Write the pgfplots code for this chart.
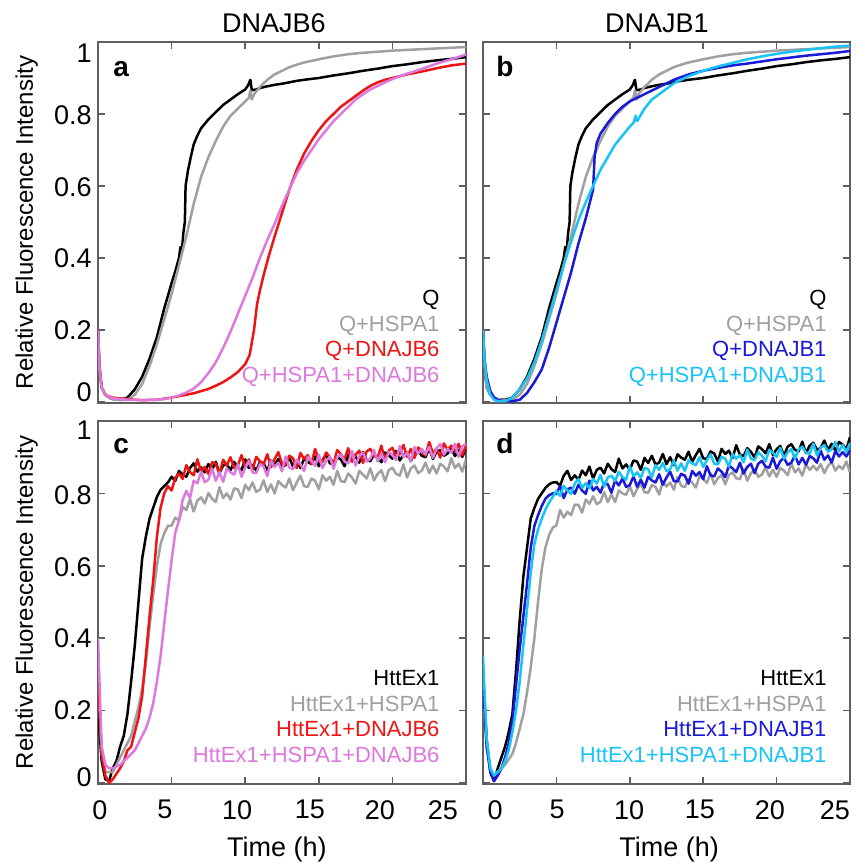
\documentclass[border=0pt]{standalone}
\usepackage{fontspec}
\setmainfont{Liberation Sans}
\usepackage{pgfplots}
\usepackage{pgfplotstable}
\pgfplotsset{compat=1.18}

\definecolor{qgrey}{RGB}{160,160,160}
\definecolor{qred}{RGB}{238,20,20}
\definecolor{qpink}{RGB}{221,120,221}
\definecolor{qblue}{RGB}{25,25,215}
\definecolor{qcyan}{RGB}{25,195,245}
\definecolor{frame}{RGB}{95,95,95}

% top row: Q series (shared by a and b)
\pgfplotstableread{
t f
0 0.20
0.1 0.10
0.25 0.04
0.5 0.02
0.75 0.012
1 0.008
1.5 0.006
2 0.012
2.5 0.035
3 0.07
3.5 0.12
4 0.18
4.5 0.26
5 0.33
5.3 0.37
5.5 0.40
5.6 0.43
5.7 0.42
5.8 0.47
5.9 0.50
5.95 0.60
6.1 0.64
6.3 0.68
6.5 0.715
6.75 0.74
7 0.76
7.5 0.785
8 0.805
8.5 0.825
9 0.84
9.5 0.855
10 0.868
10.2 0.88
10.35 0.895
10.45 0.866
10.75 0.868
11 0.872
11.5 0.877
12 0.881
12.5 0.884
13 0.888
13.5 0.892
14 0.895
15 0.90
16 0.907
17 0.913
18 0.92
19 0.926
20 0.933
21 0.938
22 0.944
23 0.949
24 0.953
25 0.958
}\tQ

\pgfplotstableread{
t f
0 0.20
0.1 0.10
0.25 0.04
0.5 0.02
0.75 0.012
1 0.008
1.5 0.005
2 0.006
2.5 0.02
3 0.05
3.5 0.10
4 0.16
4.5 0.23
5 0.30
5.5 0.38
6 0.46
6.5 0.55
7 0.625
7.5 0.68
8 0.725
8.5 0.765
9 0.795
9.5 0.815
10 0.835
10.25 0.845
10.35 0.865
10.45 0.84
10.6 0.855
11 0.875
11.5 0.895
12 0.91
12.5 0.92
13 0.93
13.5 0.937
14 0.943
15 0.952
16 0.96
17 0.966
18 0.97
19 0.973
20 0.976
21 0.978
22 0.98
23 0.982
24 0.984
25 0.986
}\tQH

\pgfplotstableread{
t f
0 0.20
0.1 0.09
0.25 0.04
0.5 0.02
0.75 0.015
1 0.012
1.5 0.01
2 0.008
2.5 0.006
3 0.005
4 0.006
5 0.012
6 0.02
6.5 0.024
7 0.03
7.5 0.036
8 0.045
8.5 0.055
9 0.068
9.5 0.083
10 0.105
10.3 0.13
10.6 0.20
10.8 0.27
11 0.31
11.3 0.36
11.6 0.405
12 0.46
12.5 0.525
13 0.59
13.5 0.645
14 0.69
14.5 0.725
15 0.755
15.5 0.78
16 0.80
16.5 0.82
17 0.835
17.5 0.85
18 0.865
18.5 0.878
19 0.888
19.5 0.895
20 0.90
21 0.91
22 0.918
23 0.927
24 0.935
25 0.94
}\tQDsix

\pgfplotstableread{
t f
0 0.20
0.1 0.09
0.25 0.04
0.5 0.02
0.75 0.014
1 0.01
1.5 0.008
2 0.006
3 0.005
4 0.006
4.5 0.008
5 0.012
5.5 0.018
6 0.026
6.5 0.037
7 0.055
7.5 0.08
8 0.11
8.5 0.15
9 0.195
9.5 0.245
10 0.295
10.5 0.345
11 0.40
11.5 0.45
12 0.495
12.5 0.545
13 0.59
13.5 0.635
14 0.67
14.5 0.70
15 0.73
15.5 0.755
16 0.78
16.5 0.80
17 0.82
17.5 0.84
18 0.855
18.5 0.868
19 0.878
19.5 0.888
20 0.897
21 0.912
22 0.925
23 0.94
24 0.952
25 0.965
}\tQHDsix

\pgfplotstableread{
t f
0 0.20
0.1 0.12
0.25 0.07
0.5 0.03
0.75 0.012
1 0.005
1.5 0.002
2 0.002
2.5 0.006
3 0.025
3.5 0.055
4 0.09
4.5 0.15
5 0.22
5.5 0.29
6 0.36
6.5 0.44
7 0.51
7.25 0.55
7.5 0.59
7.6 0.68
7.75 0.72
8 0.745
8.5 0.775
9 0.80
9.5 0.82
10 0.835
10.5 0.845
11 0.855
11.5 0.865
12 0.875
12.5 0.885
13 0.895
14 0.91
15 0.92
16 0.928
17 0.935
18 0.94
19 0.946
20 0.952
21 0.957
22 0.962
23 0.966
24 0.97
25 0.975
}\tQDone

\pgfplotstableread{
t f
0 0.20
0.1 0.12
0.25 0.06
0.5 0.02
0.75 0.006
1 0.002
1.5 0.002
2 0.012
2.5 0.035
3 0.065
3.5 0.11
4 0.17
4.5 0.24
5 0.31
5.5 0.38
6 0.445
6.5 0.505
7 0.555
7.5 0.60
8 0.645
8.5 0.68
9 0.715
9.5 0.74
10 0.765
10.25 0.775
10.4 0.795
10.5 0.78
11 0.815
11.5 0.84
12 0.855
12.5 0.87
13 0.885
14 0.905
15 0.92
16 0.932
17 0.942
18 0.952
19 0.96
20 0.967
21 0.973
22 0.978
23 0.983
24 0.987
25 0.99
}\tQHDone

% panel c: HttEx1 (k), +HSPA1 (g), +DNAJB6 (r), +HSPA1+DNAJB6 (m)
\pgfplotstableread{
t k g r m
0 0.20 0.30 0.30 0.40
0.25 0.06 0.08 0.08 0.10
0.5 0.01 0.03 0.02 0.05
0.75 0.005 0.03 0.0 0.04
1 0.04 0.03 0.01 0.04
1.25 0.06 0.05 0.025 0.045
1.5 0.10 0.07 0.04 0.05
1.75 0.13 0.09 0.06 0.06
2 0.19 0.11 0.09 0.07
2.25 0.28 0.13 0.10 0.08
2.5 0.38 0.17 0.14 0.09
2.75 0.50 0.21 0.18 0.11
3 0.62 0.26 0.24 0.13
3.25 0.68 0.33 0.35 0.15
3.5 0.73 0.43 0.46 0.18
3.75 0.76 0.52 0.56 0.22
4 0.79 0.60 0.68 0.28
4.25 0.81 0.66 0.76 0.35
4.5 0.82 0.69 0.80 0.44
4.75 0.83 0.71 0.82 0.53
5 0.846 0.711 0.808 0.615
5.25 0.835 0.733 0.843 0.692
5.5 0.862 0.725 0.855 0.725
5.75 0.852 0.762 0.840 0.782
6 0.846 0.754 0.878 0.807
6.25 0.870 0.784 0.859 0.787
6.5 0.883 0.750 0.850 0.835
6.75 0.860 0.780 0.894 0.828
7 0.872 0.789 0.861 0.860
7.25 0.858 0.772 0.873 0.831
7.5 0.881 0.801 0.854 0.838
7.75 0.866 0.785 0.886 0.869
8 0.887 0.776 0.882 0.835
8.25 0.856 0.817 0.853 0.859
8.5 0.877 0.787 0.893 0.832
8.75 0.880 0.800 0.877 0.869
9 0.864 0.783 0.900 0.858
9.25 0.887 0.814 0.870 0.852
9.5 0.872 0.811 0.877 0.881
9.75 0.864 0.787 0.906 0.846
10 0.894 0.824 0.871 0.870
10.25 0.870 0.809 0.894 0.890
10.5 0.878 0.830 0.865 0.858
10.75 0.863 0.804 0.901 0.856
11 0.887 0.810 0.889 0.881
11.25 0.883 0.836 0.880 0.874
11.5 0.862 0.804 0.908 0.848
11.75 0.891 0.825 0.872 0.890
12 0.878 0.800 0.895 0.873
12.25 0.895 0.834 0.914 0.885
12.5 0.874 0.823 0.882 0.861
12.75 0.878 0.816 0.879 0.902
13 0.899 0.841 0.904 0.871
13.25 0.874 0.809 0.897 0.867
13.5 0.890 0.830 0.870 0.893
13.75 0.870 0.849 0.912 0.881
14 0.896 0.820 0.895 0.862
14.25 0.887 0.818 0.906 0.901
14.5 0.881 0.841 0.882 0.890
14.75 0.902 0.835 0.923 0.876
15 0.875 0.811 0.891 0.907
15.25 0.892 0.850 0.887 0.870
15.5 0.907 0.835 0.913 0.890
15.75 0.883 0.846 0.900 0.901
16 0.881 0.824 0.881 0.868
16.25 0.900 0.862 0.920 0.900
16.5 0.894 0.834 0.908 0.907
16.75 0.875 0.831 0.894 0.888
17 0.906 0.855 0.925 0.883
17.25 0.893 0.844 0.887 0.917
17.5 0.902 0.827 0.907 0.877
17.75 0.885 0.862 0.918 0.903
18 0.914 0.852 0.884 0.912
18.25 0.892 0.841 0.916 0.888
18.5 0.889 0.869 0.923 0.896
18.75 0.908 0.836 0.904 0.920
19 0.899 0.854 0.898 0.888
19.25 0.886 0.864 0.932 0.910
19.5 0.913 0.834 0.891 0.886
19.75 0.905 0.864 0.918 0.915
20 0.896 0.871 0.926 0.906
20.25 0.917 0.854 0.902 0.892
20.5 0.891 0.849 0.910 0.931
20.75 0.906 0.880 0.934 0.900
21 0.913 0.844 0.901 0.913
21.25 0.889 0.869 0.923 0.889
21.5 0.912 0.877 0.898 0.928
21.75 0.917 0.856 0.927 0.910
22 0.904 0.863 0.918 0.923
22.25 0.900 0.885 0.904 0.908
22.5 0.924 0.856 0.942 0.928
22.75 0.895 0.877 0.911 0.898
23 0.915 0.855 0.924 0.924
23.25 0.920 0.882 0.899 0.937
23.5 0.904 0.874 0.938 0.907
23.75 0.910 0.861 0.920 0.923
24 0.926 0.897 0.932 0.912
24.25 0.903 0.870 0.917 0.937
24.5 0.920 0.882 0.937 0.901
24.75 0.901 0.860 0.906 0.930
25 0.923 0.895 0.932 0.937
}\tC

% panel d: HttEx1 (k), +HSPA1 (g), +DNAJB1 (b), +HSPA1+DNAJB1 (c)
\pgfplotstableread{
t k g b c
0 0.30 0.25 0.28 0.35
0.25 0.12 0.10 0.10 0.12
0.5 0.03 0.04 0.03 0.04
0.75 0.005 0.02 0.005 0.02
1 0.04 0.03 0.02 0.03
1.25 0.07 0.04 0.04 0.04
1.5 0.10 0.05 0.07 0.06
1.75 0.14 0.065 0.11 0.09
2 0.19 0.08 0.17 0.14
2.25 0.31 0.11 0.27 0.20
2.5 0.45 0.15 0.37 0.28
2.75 0.57 0.19 0.46 0.38
3 0.65 0.25 0.55 0.48
3.25 0.73 0.32 0.65 0.58
3.5 0.76 0.40 0.71 0.66
3.75 0.785 0.50 0.74 0.70
4 0.80 0.59 0.765 0.73
4.25 0.815 0.65 0.785 0.755
4.5 0.825 0.685 0.795 0.775
4.75 0.83 0.705 0.80 0.79
5 0.831 0.712 0.798 0.807
5.25 0.821 0.754 0.821 0.793
5.5 0.849 0.733 0.787 0.821
5.75 0.862 0.749 0.811 0.808
6 0.837 0.740 0.816 0.799
6.25 0.850 0.769 0.799 0.827
6.5 0.837 0.768 0.824 0.840
6.75 0.863 0.747 0.808 0.815
7 0.850 0.783 0.799 0.828
7.25 0.874 0.771 0.835 0.814
7.5 0.841 0.792 0.808 0.840
7.75 0.865 0.770 0.818 0.827
8 0.871 0.777 0.802 0.851
8.25 0.855 0.803 0.829 0.819
8.5 0.882 0.776 0.825 0.844
8.75 0.867 0.797 0.802 0.849
9 0.859 0.776 0.836 0.834
9.25 0.896 0.808 0.822 0.860
9.5 0.869 0.800 0.841 0.845
9.75 0.880 0.796 0.818 0.838
10 0.865 0.820 0.823 0.875
10.25 0.891 0.792 0.847 0.848
10.5 0.888 0.812 0.818 0.858
10.75 0.865 0.828 0.838 0.843
11 0.898 0.803 0.816 0.870
11.25 0.884 0.802 0.846 0.867
11.5 0.904 0.823 0.836 0.844
11.75 0.880 0.818 0.830 0.878
12 0.885 0.797 0.853 0.865
12.25 0.909 0.832 0.824 0.884
12.5 0.881 0.819 0.844 0.861
12.75 0.900 0.830 0.860 0.867
13 0.878 0.810 0.834 0.891
13.25 0.908 0.845 0.833 0.863
13.5 0.899 0.821 0.854 0.883
13.75 0.893 0.817 0.849 0.862
14 0.915 0.840 0.827 0.892
14.25 0.887 0.830 0.862 0.883
14.5 0.906 0.816 0.849 0.878
14.75 0.923 0.848 0.859 0.900
15 0.897 0.840 0.839 0.873
15.25 0.895 0.829 0.875 0.892
15.5 0.916 0.855 0.850 0.908
15.75 0.910 0.825 0.847 0.882
16 0.888 0.842 0.869 0.880
16.25 0.923 0.851 0.860 0.901
16.5 0.909 0.825 0.845 0.896
16.75 0.918 0.851 0.877 0.874
17 0.898 0.858 0.869 0.909
17.25 0.933 0.842 0.859 0.896
17.5 0.907 0.839 0.885 0.906
17.75 0.903 0.867 0.855 0.886
18 0.925 0.835 0.873 0.921
18.25 0.915 0.856 0.882 0.896
18.5 0.899 0.865 0.856 0.892
18.75 0.930 0.846 0.882 0.914
19 0.922 0.852 0.890 0.904
19.25 0.911 0.872 0.874 0.889
19.5 0.936 0.847 0.871 0.920
19.75 0.906 0.865 0.899 0.912
20 0.922 0.846 0.868 0.901
20.25 0.931 0.870 0.889 0.926
20.5 0.904 0.863 0.898 0.896
20.75 0.929 0.850 0.879 0.913
21 0.936 0.883 0.885 0.922
21.25 0.920 0.858 0.905 0.896
21.5 0.916 0.869 0.880 0.922
21.75 0.943 0.849 0.898 0.929
22 0.911 0.880 0.879 0.913
22.25 0.932 0.865 0.903 0.909
22.5 0.940 0.876 0.897 0.937
22.75 0.920 0.864 0.885 0.905
23 0.926 0.881 0.918 0.926
23.25 0.946 0.856 0.893 0.934
23.5 0.920 0.876 0.905 0.915
23.75 0.937 0.887 0.885 0.922
24 0.918 0.863 0.917 0.942
24.25 0.942 0.876 0.902 0.916
24.5 0.935 0.867 0.914 0.934
24.75 0.922 0.888 0.902 0.915
25 0.955 0.858 0.919 0.939
}\tD

\pgfplotsset{
  panel/.style={
    scale only axis, anchor=north west,
    xmin=0, xmax=25, ymin=-0.003, ymax=1,
    xtick={0,5,10,15,20,25}, ytick={0,0.2,0.4,0.6,0.8,1},
    xticklabels={}, yticklabels={},
    tick align=inside,
    axis line style={frame, line width=0.9pt},
    major tick style={frame, line width=0.8pt},
    major tick length=3.5pt,
    every axis plot/.append style={line width=1.25pt, line join=round},
    clip mode=individual,
  },
}
\tikzset{
  lab/.style={font=\fontsize{11}{13}\selectfont, anchor=base east, inner sep=0pt},
  letter/.style={font=\fontsize{14}{16}\selectfont\bfseries, anchor=base west, inner sep=0pt},
  ttl/.style={font=\fontsize{13.5}{16}\selectfont, anchor=base, inner sep=0pt},
  ylab/.style={font=\fontsize{12}{14}\selectfont, rotate=90, anchor=base, inner sep=0pt},
  ytl/.style={font=\fontsize{13.5}{16}\selectfont, anchor=east, inner sep=0pt},
  xtl/.style={font=\fontsize{13.5}{16}\selectfont, anchor=north, inner sep=0pt, yshift=-8pt},
}

\begin{document}
\begin{tikzpicture}
\useasboundingbox (0,0) rectangle (432pt,-433pt);

% a
\begin{axis}[panel, at={(49pt,-21pt)}, width=184pt, height=180.5pt]
\addplot[black] table[x=t,y=f] {\tQ};
\addplot[qgrey] table[x=t,y=f] {\tQH};
\addplot[qred] table[x=t,y=f] {\tQDsix};
\addplot[qpink] table[x=t,y=f] {\tQHDsix};
\node[letter] at (rel axis cs:0.041,0.905) {a};
\node[ttl] at (rel axis cs:0.478,1.025) {DNAJB6};
\node[ylab] at (rel axis cs:-0.177,0.5) {Relative Fluorescence Intensity};
\node[ytl] at (rel axis cs:-0.016,0.970) {1};
\node[ytl] at (rel axis cs:-0.016,0.798) {0.8};
\node[ytl] at (rel axis cs:-0.016,0.598) {0.6};
\node[ytl] at (rel axis cs:-0.016,0.402) {0.4};
\node[ytl] at (rel axis cs:-0.016,0.202) {0.2};
\node[ytl] at (rel axis cs:-0.016,0.030) {0};
\node[lab, text=black] at (rel axis cs:0.929,0.271) {Q};
\node[lab, text=qgrey] at (rel axis cs:0.929,0.199) {Q+HSPA1};
\node[lab, text=qred] at (rel axis cs:0.929,0.129) {Q+DNAJB6};
\node[lab, text=qpink] at (rel axis cs:0.929,0.058) {Q+HSPA1+DNAJB6};
\end{axis}

% b
\begin{axis}[panel, at={(241.5pt,-21pt)}, width=183.5pt, height=180.5pt]
\addplot[black] table[x=t,y=f] {\tQ};
\addplot[qgrey] table[x=t,y=f] {\tQH};
\addplot[qblue] table[x=t,y=f] {\tQDone};
\addplot[qcyan] table[x=t,y=f] {\tQHDone};
\node[letter] at (rel axis cs:0.035,0.905) {b};
\node[ttl] at (rel axis cs:0.474,1.025) {DNAJB1};
\node[lab, text=black] at (rel axis cs:0.937,0.271) {Q};
\node[lab, text=qgrey] at (rel axis cs:0.937,0.199) {Q+HSPA1};
\node[lab, text=qblue] at (rel axis cs:0.937,0.129) {Q+DNAJB1};
\node[lab, text=qcyan] at (rel axis cs:0.937,0.058) {Q+HSPA1+DNAJB1};
\end{axis}

% c
\begin{axis}[panel, at={(49pt,-210.5pt)}, width=184pt, height=181.5pt]
\addplot[black] table[x=t,y=k] {\tC};
\addplot[qgrey] table[x=t,y=g] {\tC};
\addplot[qred] table[x=t,y=r] {\tC};
\addplot[qpink] table[x=t,y=m] {\tC};
\node[letter] at (rel axis cs:0.041,0.91) {c};
\node[ylab] at (rel axis cs:-0.177,0.5) {Relative Fluorescence Intensity};
\node[ytl] at (rel axis cs:-0.016,0.975) {1};
\node[ytl] at (rel axis cs:-0.016,0.796) {0.8};
\node[ytl] at (rel axis cs:-0.016,0.598) {0.6};
\node[ytl] at (rel axis cs:-0.016,0.402) {0.4};
\node[ytl] at (rel axis cs:-0.016,0.204) {0.2};
\node[ytl] at (rel axis cs:-0.016,0.020) {0};
\node[xtl] at (rel axis cs:0.005,0) {0};
\node[xtl] at (rel axis cs:0.182,0) {5};
\node[xtl] at (rel axis cs:0.378,0) {10};
\node[xtl] at (rel axis cs:0.576,0) {15};
\node[xtl] at (rel axis cs:0.766,0) {20};
\node[xtl] at (rel axis cs:0.9375,0) {25};
\node[ttl] at (rel axis cs:0.486,-0.201) {Time (h)};
\node[lab, text=black] at (rel axis cs:0.929,0.27) {HttEx1};
\node[lab, text=qgrey] at (rel axis cs:0.929,0.201) {HttEx1+HSPA1};
\node[lab, text=qred] at (rel axis cs:0.929,0.132) {HttEx1+DNAJB6};
\node[lab, text=qpink] at (rel axis cs:0.929,0.058) {HttEx1+HSPA1+DNAJB6};
\end{axis}

% d
\begin{axis}[panel, at={(241.5pt,-210.5pt)}, width=183.5pt, height=181.5pt]
\addplot[black] table[x=t,y=k] {\tD};
\addplot[qgrey] table[x=t,y=g] {\tD};
\addplot[qblue] table[x=t,y=b] {\tD};
\addplot[qcyan] table[x=t,y=c] {\tD};
\node[letter] at (rel axis cs:0.035,0.91) {d};
\node[xtl] at (rel axis cs:0.033,0) {0};
\node[xtl] at (rel axis cs:0.202,0) {5};
\node[xtl] at (rel axis cs:0.398,0) {10};
\node[xtl] at (rel axis cs:0.591,0) {15};
\node[xtl] at (rel axis cs:0.782,0) {20};
\node[xtl] at (rel axis cs:0.959,0) {25};
\node[ttl] at (rel axis cs:0.507,-0.201) {Time (h)};
\node[lab, text=black] at (rel axis cs:0.937,0.27) {HttEx1};
\node[lab, text=qgrey] at (rel axis cs:0.937,0.201) {HttEx1+HSPA1};
\node[lab, text=qblue] at (rel axis cs:0.937,0.132) {HttEx1+DNAJB1};
\node[lab, text=qcyan] at (rel axis cs:0.937,0.058) {HttEx1+HSPA1+DNAJB1};
\end{axis}
\end{tikzpicture}
\end{document}
